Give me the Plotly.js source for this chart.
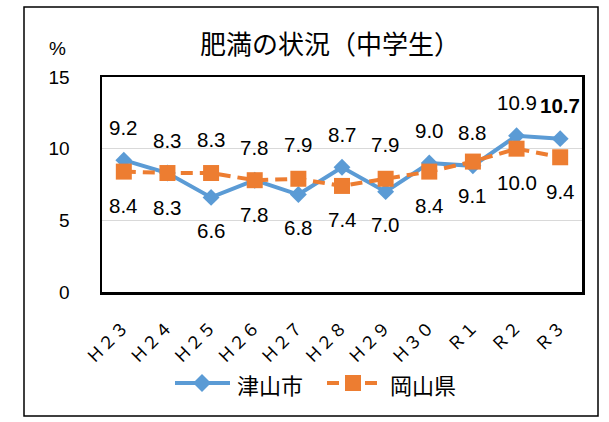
<!DOCTYPE html>
<html>
<head>
<meta charset="utf-8">
<script src="https://cdn.plot.ly/plotly-3.0.1.min.js"></script>
<style>
html,body{margin:0;padding:0;background:#fff;}
#chart{width:609px;height:422px;}
</style>
</head>
<body>
<div id="chart"></div>
<script>
const categories = ['Ｈ２３','Ｈ２４','Ｈ２５','Ｈ２６','Ｈ２７','Ｈ２８','Ｈ２９','Ｈ３０','Ｒ１','Ｒ２','Ｒ３'];
const tsuyama = [9.2, 8.3, 6.6, 7.8, 6.8, 8.7, 7.0, 9.0, 8.8, 10.9, 10.7];
const okayama = [8.4, 8.3, 8.3, 7.8, 7.9, 7.4, 7.9, 8.4, 9.1, 10.0, 9.4];
const seriesNames = ['津山市', '岡山県'];
const yTicks = [0, 5, 10, 15];
// +1 : Tsuyama label above (Okayama below), -1 : the opposite
const tsuyamaLabelSide = [1, 1, -1, 1, -1, 1, -1, 1, 1, 1, 1];

const BLUE = '#5B9BD5', ORANGE = '#ED7D31';
const W = 609, H = 422;
const M = {l: 102, r: 27, t: 77, b: 130};
const pw = W - M.l - M.r, ph = H - M.t - M.b;
const px = x => (x - M.l) / pw;
const py = y => (H - M.b - y) / ph;

const numFont = 'Liberation Sans, Arial, sans-serif';
const jpFont = 'Noto Sans CJK JP, sans-serif';

const traces = [
  {x: categories, y: tsuyama, name: seriesNames[0], type: 'scatter', mode: 'lines+markers',
   line: {color: BLUE, width: 4}, marker: {symbol: 'diamond', size: 13, color: BLUE}},
  {x: categories, y: okayama, name: seriesNames[1], type: 'scatter', mode: 'lines+markers',
   line: {color: ORANGE, width: 4, dash: '12px,7px'}, marker: {symbol: 'square', size: 16, color: ORANGE}}
];

const annotations = [];
categories.forEach((c, i) => {
  const s = tsuyamaLabelSide[i];
  const isLast = i === categories.length - 1;
  annotations.push({x: c, y: tsuyama[i], xref: 'x', yref: 'y', showarrow: false,
    text: isLast ? '<b>' + tsuyama[i].toFixed(1) + '</b>' : tsuyama[i].toFixed(1),
    yshift: 33 * s, font: {family: numFont, size: 20.5, color: '#000'}});
  annotations.push({x: c, y: okayama[i], xref: 'x', yref: 'y', showarrow: false,
    text: okayama[i].toFixed(1),
    yshift: -34 * s, font: {family: numFont, size: 20.5, color: '#000'}});
});
// % unit
annotations.push({xref: 'paper', yref: 'paper', x: px(57), y: py(48), text: '%', showarrow: false,
  xanchor: 'center', yanchor: 'middle', font: {family: numFont, size: 19, color: '#000'}});
// legend texts
annotations.push({xref: 'paper', yref: 'paper', x: px(235), y: py(384), text: seriesNames[0], showarrow: false,
  xanchor: 'left', yanchor: 'middle', font: {family: jpFont, size: 22, color: '#000'}});
annotations.push({xref: 'paper', yref: 'paper', x: px(388), y: py(384), text: seriesNames[1], showarrow: false,
  xanchor: 'left', yanchor: 'middle', font: {family: jpFont, size: 22, color: '#000'}});

const shapes = [
  // outer frame
  {type: 'rect', xref: 'paper', yref: 'paper', x0: px(24), x1: px(598), y0: py(416), y1: py(7),
   line: {color: '#000', width: 1.5}, fillcolor: 'rgba(0,0,0,0)'},
  // legend: blue line + diamond
  {type: 'line', xref: 'paper', yref: 'paper', x0: px(175), x1: px(230), y0: py(383), y1: py(383),
   line: {color: BLUE, width: 4}},
  {type: 'path', xref: 'paper', yref: 'paper',
   path: `M ${px(202)},${py(374)} L ${px(211)},${py(383)} L ${px(202)},${py(392)} L ${px(193)},${py(383)} Z`,
   fillcolor: BLUE, line: {color: BLUE, width: 0}},
  // legend: orange dashes + square
  {type: 'line', xref: 'paper', yref: 'paper', x0: px(327), x1: px(339), y0: py(383), y1: py(383),
   line: {color: ORANGE, width: 4}},
  {type: 'line', xref: 'paper', yref: 'paper', x0: px(365), x1: px(377), y0: py(383), y1: py(383),
   line: {color: ORANGE, width: 4}},
  {type: 'rect', xref: 'paper', yref: 'paper', x0: px(345), x1: px(361), y0: py(391), y1: py(375),
   fillcolor: ORANGE, line: {color: ORANGE, width: 0}}
];

const layout = {
  width: W, height: H,
  margin: M,
  paper_bgcolor: '#fff', plot_bgcolor: '#fff',
  showlegend: false,
  title: {text: '肥満の状況（中学生）', font: {family: jpFont, size: 26, color: '#000'},
    xref: 'paper', x: px(330), xanchor: 'center', yref: 'container', y: 1 - 45 / H, yanchor: 'middle'},
  xaxis: {type: 'category', range: [-0.5, categories.length - 0.5], tickangle: -45,
    showgrid: false, zeroline: false,
    showline: true, mirror: true, linecolor: '#000', linewidth: 2.5, ticks: '',
    tickfont: {family: jpFont, size: 17, color: '#000'}, ticklabelstandoff: 16},
  yaxis: {range: [0, 15], tickvals: yTicks, ticktext: yTicks.map(String), showgrid: true,
    gridcolor: '#D9D9D9', gridwidth: 1.5, zeroline: false,
    showline: true, mirror: true, linecolor: '#000', linewidth: 2.5, ticks: '',
    tickfont: {family: numFont, size: 19, color: '#000'}, ticklabelstandoff: 26},
  annotations: annotations,
  shapes: shapes
};

Plotly.newPlot('chart', traces, layout, {displayModeBar: false, staticPlot: true});
</script>
</body>
</html>
